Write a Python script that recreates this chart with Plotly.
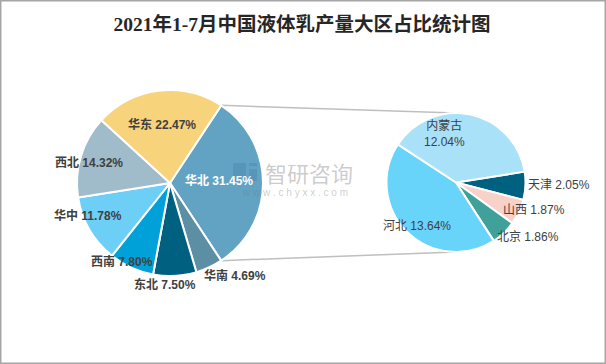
import math
import plotly.graph_objects as go

# ---- data ----
title_text = "2021年1-7月中国液体乳产量大区占比统计图"
region_labels = ["华北", "华南", "东北", "西南", "华中", "西北", "华东"]
region_values = [31.45, 4.69, 7.50, 7.80, 11.78, 14.32, 22.47]
north_labels = ["天津", "山西", "北京", "河北", "内蒙古"]
north_values = [2.05, 1.87, 1.86, 13.64, 12.04]

# ---- style ----
W, H = 606, 364
region_colors = ["#62A3C4", "#5C8FA3", "#00607F", "#00A0D8", "#6DCFF6", "#A0BCCB", "#F7D37B"]
north_colors = ["#00607F", "#F8D1C9", "#40A19B", "#68D4FA", "#A9E1F8"]
left_c, left_r = (170, 183), 93
right_c, right_r = (456, 182.5), 69.5
left_rot = 90 - region_values[0] / sum(region_values) * 360 / 2
right_rot = 81
# label offsets in units of the pie radius (dx right, dy down)
left_label_off = [(0.53, -0.03), (0.70, 0.99), (-0.05, 1.09), (-0.52, 0.85),
                  (-0.88, 0.35), (-0.87, -0.22), (-0.09, -0.63)]
right_label_off = [(1.48, 0.03), (1.12, 0.40), (1.04, 0.78), (-0.56, 0.63), (-0.16, -0.70)]

def px_to_paper(x, y):
    return x / W, 1 - y / H

def domain(c, r):
    x0, y1 = px_to_paper(c[0] - r, c[1] - r)
    x1, y0 = px_to_paper(c[0] + r, c[1] + r)
    return dict(x=[x0, x1], y=[y0, y1])

fig = go.Figure()
fig.add_trace(go.Pie(
    labels=region_labels, values=region_values, sort=False, direction="clockwise",
    rotation=left_rot, domain=domain(left_c, left_r), textinfo="none",
    marker=dict(colors=region_colors, line=dict(color="white", width=2)),
    showlegend=False, hoverinfo="label+percent"))
fig.add_trace(go.Pie(
    labels=north_labels, values=north_values, sort=False, direction="clockwise",
    rotation=right_rot, domain=domain(right_c, right_r), textinfo="none",
    marker=dict(colors=north_colors, line=dict(color="white", width=2)),
    showlegend=False, hoverinfo="label+value"))

annotations = []
font_fam = "Liberation Sans, Noto Sans CJK SC, sans-serif"
def ann(x, y, text, font):
    return dict(x=x, y=y, xref="paper", yref="paper", showarrow=False, text=text,
                xanchor="center", yanchor="middle", font=font)

for i, (lab, v) in enumerate(zip(region_labels, region_values)):
    dx, dy = left_label_off[i]
    x, y = px_to_paper(left_c[0] + dx * left_r, left_c[1] + dy * left_r)
    col = "white" if i == 0 else "#404040"
    annotations.append(ann(x, y, f"<b>{lab} {v:.2f}%</b>",
                           dict(family=font_fam, size=12, color=col)))
for i, (lab, v) in enumerate(zip(north_labels, north_values)):
    dx, dy = right_label_off[i]
    x, y = px_to_paper(right_c[0] + dx * right_r, right_c[1] + dy * right_r)
    sep = "<br>" if len(lab) > 2 else " "
    annotations.append(ann(x, y, f"{lab}{sep}{v:.2f}%",
                           dict(family=font_fam, size=12, color="#404040")))

# watermark
wm_col = "rgba(120,120,120,0.38)"
wx, wy = px_to_paper(309, 172)
annotations.append(ann(wx, wy, "智研咨询", dict(family="Noto Sans CJK SC", size=22, color=wm_col)))
wx, wy = px_to_paper(295, 192)
annotations.append(ann(wx, wy, "w w w . c h y x x . c o m",
                       dict(family="Liberation Sans", size=10, color=wm_col)))

shapes = []
# watermark logo blocks
logo_col = "rgba(60,100,140,0.22)"
for (lx0, ly0, lx1, ly1) in ((233, 163, 246, 181), (249, 169, 257, 181), (249, 163, 257, 166)):
    x0, y1 = px_to_paper(lx0, ly0)
    x1, y0 = px_to_paper(lx1, ly1)
    shapes.append(dict(type="rect", xref="paper", yref="paper", x0=x0, y0=y0, x1=x1, y1=y1,
                       fillcolor=logo_col, line=dict(width=0), layer="above"))

# connector lines between pies
total = sum(region_values)
a_start = math.radians(left_rot)
a_end = math.radians(left_rot + region_values[0] / total * 360)
for ang, ry in ((a_start, right_c[1] - right_r), (a_end, right_c[1] + right_r)):
    sx = left_c[0] + left_r * math.sin(ang)
    sy = left_c[1] - left_r * math.cos(ang)
    x0, y0 = px_to_paper(sx, sy)
    x1, y1 = px_to_paper(right_c[0], ry)
    shapes.append(dict(type="line", xref="paper", yref="paper", x0=x0, y0=y0, x1=x1, y1=y1,
                       line=dict(color="#BFBFBF", width=1.5), layer="below"))
shapes.append(dict(type="rect", xref="paper", yref="paper", x0=0.0012, y0=0.002, x1=0.9988, y1=0.998,
                   line=dict(color="#A6A6A6", width=1.5), layer="above"))

fig.update_layout(
    width=W, height=H, margin=dict(l=0, r=0, t=0, b=0),
    paper_bgcolor="white", plot_bgcolor="white",
    title=dict(text=f"<b>{title_text}</b>", x=302 / W, xanchor="center", y=1 - 24 / H, yanchor="middle",
               font=dict(family="Liberation Serif, Noto Sans CJK SC, serif", size=19.5, color="#262626")),
    annotations=annotations, shapes=shapes,
)
fig.write_html("out.html", config={"displayModeBar": False},
               post_script="document.body.style.margin='0px';document.body.style.overflow='hidden';")
